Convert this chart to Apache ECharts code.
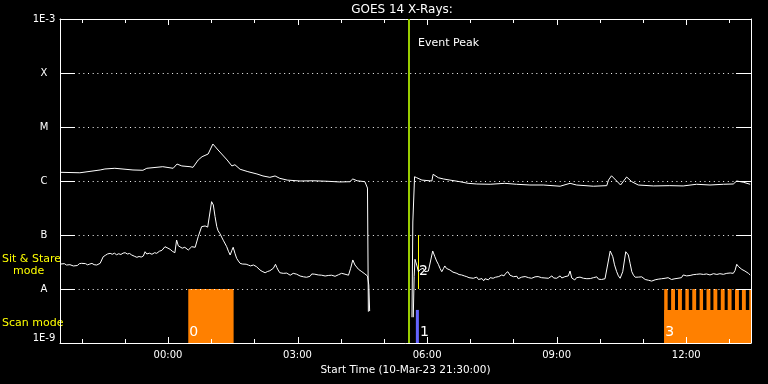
<!DOCTYPE html>
<html><head><meta charset="utf-8">
<script src="https://cdn.jsdelivr.net/npm/echarts@6/dist/echarts.min.js"></script>
<style>html,body{margin:0;padding:0;background:#000;}#c{width:768px;height:384px;}</style>
</head><body><div id="c"></div>
<script>
// ---- text ----
const titleText = 'GOES 14 X-Rays:';
const xAxisName = 'Start Time (10-Mar-23 21:30:00)';
const leftNotes = ['Sit & Stare', 'mode', 'Scan mode'];
const peakLabel = 'Event Peak';

// ---- axes (time in hours relative to 00:00 on 11-Mar-23) ----
const xMin = -2.5, xMax = 13.5;
const xMajorTicks = [0, 3, 6, 9, 12];
const xMajorLabels = ['00:00', '03:00', '06:00', '09:00', '12:00'];
const xMinorTicks = [-2, -1, 1, 2, 4, 5, 7, 8, 10, 11, 13];
const yMin = 1e-9, yMax = 1e-3;
const yTickExps = [-9, -8, -7, -6, -5, -4, -3];
const yTickLabels = ['1E-9', 'A', 'B', 'C', 'M', 'X', '1E-3'];

// ---- long channel (upper curve): [hour, flux in 1e-6 W/m^2], null = data gap ----
const longChannelE6 = [[-2.50,1.45],[-2.04,1.42],[-1.57,1.60],[-1.46,1.67],[-1.23,1.72],[-0.81,1.60],[-0.58,1.58],[-0.49,1.72],[-0.12,1.84],[0.12,1.72],[0.21,2.06],[0.32,1.90],[0.51,1.84],[0.58,1.79],[0.70,2.45],[0.79,2.82],[0.93,3.16],[1.04,4.84],[1.16,3.75],[1.37,2.45],[1.48,1.90],[1.55,2.00],[1.67,1.65],[1.85,1.49],[2.06,1.35],[2.20,1.24],[2.36,1.17],[2.48,1.24],[2.59,1.12],[2.76,1.04],[3.06,1.00],[3.36,1.01],[3.68,0.99],[3.98,0.96],[4.21,0.97],[4.28,1.09],[4.38,1.01],[4.56,0.97],[4.62,0.74],[4.64,0.0038],[5.10,null],[5.65,0.0030],[5.67,0.174],[5.71,1.20],[5.76,1.15],[5.88,1.04],[6.11,1.00],[6.14,1.33],[6.26,1.15],[6.38,1.09],[6.53,1.04],[6.76,0.97],[6.95,0.906],[7.15,0.88],[7.46,0.87],[7.80,0.906],[8.07,0.87],[8.38,0.843],[8.69,0.843],[9.08,0.80],[9.31,0.906],[9.46,0.843],[9.85,0.80],[10.16,0.82],[10.20,1.04],[10.27,1.25],[10.39,1.00],[10.48,0.843],[10.62,1.186],[10.74,0.97],[10.89,0.843],[11.24,0.81],[11.62,0.82],[11.93,0.81],[12.24,0.87],[12.55,0.843],[12.86,0.87],[13.09,0.88],[13.17,1.00],[13.32,0.95],[13.48,0.87]];

// ---- short channel (lower curve): [hour, flux in 1e-8 W/m^2], null = data gap ----
const shortChannelE8 = [[-2.48,2.90],[-2.44,2.80],[-2.40,2.95],[-2.35,2.78],[-2.31,2.70],[-2.27,2.82],[-2.23,2.65],[-2.19,2.67],[-2.15,2.78],[-2.10,2.72],[-2.05,2.95],[-2.00,2.99],[-1.96,2.85],[-1.91,2.95],[-1.86,2.80],[-1.81,2.90],[-1.76,2.98],[-1.71,2.82],[-1.65,2.78],[-1.61,2.85],[-1.57,2.99],
[-1.50,3.96],[-1.45,4.20],[-1.40,4.45],[-1.34,4.58],[-1.29,4.40],[-1.24,4.60],[-1.19,4.31],[-1.14,4.50],[-1.09,4.35],[-1.04,4.62],[-0.99,4.70],[-0.94,4.45],[-0.89,4.55],[-0.84,4.26],[-0.78,4.05],[-0.72,3.86],[-0.67,4.00],[-0.62,3.90],[-0.57,4.08],[-0.53,4.90],[-0.49,4.45],[-0.43,4.60],[-0.37,4.40],[-0.31,4.70],[-0.26,4.58],[-0.20,5.00],[-0.14,5.20],[-0.07,6.07],[0.00,5.70],[0.05,5.43],[0.10,5.00],[0.16,4.70],[0.20,8.07],[0.24,6.30],[0.28,6.07],[0.33,5.70],[0.39,5.92],[0.43,5.50],[0.47,5.27],[0.51,5.60],[0.55,6.07],[0.59,5.70],[0.63,5.92],
[0.70,9.30],[0.78,14.3],[0.86,14.7],[0.92,14.0],[0.96,14.3],[1.01,41.4],[1.05,36.0],[1.09,22.0],[1.13,14.3],[1.16,12.0],[1.20,10.7],[1.28,8.00],[1.36,6.07],[1.40,5.00],[1.44,4.26],[1.48,5.20],[1.51,5.92],[1.55,4.60],[1.59,3.70],[1.63,3.30],[1.67,2.99],[1.72,2.90],[1.76,2.75],[1.81,2.88],[1.86,2.78],[1.91,2.68],[1.95,2.85],[1.98,2.78],
[2.05,2.59],[2.09,2.40],[2.13,2.25],[2.18,2.12],[2.22,2.05],[2.25,2.00],[2.30,2.10],[2.36,2.18],[2.40,2.30],[2.44,2.42],[2.49,2.87],[2.52,2.50],[2.55,2.25],[2.59,2.00],[2.63,1.87],[2.67,1.95],[2.71,1.84],[2.75,1.97],[2.79,1.90],[2.83,1.80],[2.87,1.93],[2.90,1.95],[2.94,1.82],[2.98,1.88],[3.02,1.78],[3.06,1.74],[3.10,1.82],[3.14,1.68],[3.17,1.75],[3.21,1.65],[3.25,1.78],[3.29,1.72],[3.33,1.90],[3.37,1.80],[3.40,1.88],[3.44,1.74],[3.48,1.82],[3.52,1.70],[3.56,1.80],[3.60,1.84],[3.64,1.74],[3.68,1.88],[3.71,1.78],[3.75,1.90],[3.79,1.80],[3.83,1.86],[3.87,1.72],[3.91,1.74],[3.95,1.84],[3.98,1.78],[4.02,1.95],[4.06,1.82],[4.10,1.88],[4.14,1.74],[4.18,1.80],
[4.23,2.42],[4.28,3.45],[4.33,2.78],[4.37,2.55],[4.41,2.32],[4.45,2.20],[4.49,2.09],[4.52,2.15],[4.56,1.90],[4.59,1.98],[4.62,1.74],[4.65,1.19],[4.67,0.39],[5.10,null],
[5.68,0.30],[5.70,1.69],[5.72,3.55],[5.76,2.78],[5.80,2.09],[5.84,2.30],[5.87,2.20],[5.91,2.42],[5.95,2.10],[5.99,1.95],[6.03,2.15],[6.07,2.09],[6.13,5.06],[6.18,3.96],[6.22,3.30],[6.26,2.87],[6.30,2.40],[6.34,2.09],[6.38,2.40],[6.41,2.67],[6.45,2.40],[6.49,2.50],[6.53,2.25],
[6.60,2.05],[6.64,2.20],[6.69,1.95],[6.74,1.85],[6.77,2.00],[6.80,1.82],[6.86,1.75],[6.89,1.90],[6.92,1.69],[6.97,1.62],[7.01,1.75],[7.07,1.58],[7.11,1.52],[7.15,1.66],[7.19,1.50],[7.23,1.47],[7.27,1.56],[7.31,1.42],[7.34,1.55],[7.38,1.53],[7.42,1.48],[7.46,1.62],[7.50,1.50],[7.53,1.58],[7.58,1.65],[7.62,1.55],[7.66,1.70],[7.69,1.60],[7.73,1.82],[7.78,1.75],[7.82,1.95],[7.87,2.09],[7.92,1.80],[7.96,1.90],[8.00,1.69],[8.04,1.62],[8.08,1.72],[8.11,1.55],[8.15,1.58],[8.19,1.66],[8.23,1.55],[8.27,1.70],[8.31,1.76],[8.35,1.62],[8.38,1.72],[8.42,1.58],[8.46,1.53],[8.50,1.68],[8.54,1.55],[8.57,1.70],[8.61,1.82],[8.65,1.62],[8.69,1.75],[8.73,1.60],[8.77,1.72],[8.81,1.58],[8.85,1.69],[8.89,1.75],[8.93,1.60],[8.96,1.70],[9.00,1.58],[9.04,1.62],[9.08,1.75],[9.12,1.60],[9.15,1.72],[9.19,1.69],[9.23,1.60],[9.27,1.75],[9.31,2.15],[9.35,1.60],[9.38,1.52],[9.42,1.47],[9.46,1.62],[9.50,1.52],[9.54,1.66],[9.58,1.55],[9.62,1.58],[9.66,1.66],[9.70,1.55],[9.74,1.68],[9.78,1.56],[9.81,1.66],[9.85,1.62],[9.89,1.55],[9.93,1.68],[9.97,1.52],[10.01,1.60],[10.04,1.50],[10.08,1.47],[10.12,1.55],
[10.16,1.58],[10.24,5.06],[10.30,3.96],[10.34,2.80],[10.39,2.09],[10.43,1.75],[10.47,1.58],[10.53,2.09],[10.60,4.90],[10.66,4.26],[10.70,3.00],[10.74,2.09],[10.78,1.80],[10.82,1.65],[10.85,1.58],[10.89,1.66],[10.93,1.55],[10.97,1.68],[11.01,1.62],[11.05,1.50],[11.09,1.60],[11.13,1.45],[11.17,1.52],[11.20,1.40],[11.24,1.37],[11.28,1.48],[11.32,1.40],[11.35,1.52],[11.39,1.47],[11.43,1.55],[11.47,1.48],[11.51,1.58],[11.55,1.52],[11.58,1.62],[11.62,1.58],[11.66,1.50],[11.70,1.62],[11.74,1.55],[11.78,1.66],[11.81,1.58],[11.85,1.72],[11.89,1.62],[11.93,1.82],[11.97,1.68],[12.01,1.75],[12.05,1.65],[12.09,1.78],[12.12,1.70],[12.16,1.84],[12.20,1.72],[12.24,1.87],[12.28,1.76],[12.32,1.90],[12.36,1.78],[12.40,1.86],[12.43,1.74],[12.47,1.90],[12.51,1.78],[12.55,1.82],[12.59,1.74],[12.63,1.92],[12.67,1.80],[12.71,1.86],[12.75,1.76],[12.78,1.92],[12.82,1.80],[12.86,1.87],[12.90,1.80],[12.94,1.95],[12.98,1.84],[13.02,1.98],[13.05,1.88],[13.09,1.95],[13.13,2.20],[13.17,2.87],[13.21,2.60],[13.25,2.42],[13.29,2.30],[13.32,2.20],[13.36,2.15],[13.40,2.00],[13.44,1.95],[13.48,1.82]];

// ---- observing-mode events ----
const scanBase = 1e-9, scanTop = 1e-8, scanSolidTop = 4.1e-9;
const scanBars = [[0.47,1.52],[11.49,11.57],[11.65,11.74],[11.81,11.90],[11.98,12.06],[12.14,12.23],[12.31,12.39],[12.47,12.56],[12.63,12.72],[12.80,12.89],[12.96,13.05],[13.13,13.22],[13.29,13.38],[13.46,13.50]];
const scanSolid = [[11.49,13.50]];
const stareBars = [[5.74,5.81]];
const stareLineTimes = [5.80];
const stareLineLow = 1e-8, stareLineHigh = 1e-7;
const peakTime = 5.58;
const eventNums = ['0', '1', '2', '3'];
const eventNumTimes = [0.47, 5.81, 5.79, 11.49];
const eventNumFlux = [1.6e-9, 1.6e-9, 2.15e-8, 1.6e-9];

const FONT = 'DejaVu Sans';
const chart = echarts.init(document.getElementById('c'), null, {renderer: 'canvas'});

function toPairs(rows, unit) { return rows.map(r => [r[0], r[1] === null ? '-' : r[1] * unit]); }
function rectItem(api, fill) {
  const p0 = api.coord([api.value(0), api.value(3)]);
  const p1 = api.coord([api.value(1), api.value(2)]);
  return {type: 'rect', shape: {x: p0[0], y: p0[1], width: p1[0] - p0[0], height: p1[1] - p0[1]}, style: {fill: fill}};
}
const white = {color: '#fff', width: 1};

chart.setOption({
  backgroundColor: '#000',
  animation: false,
  grid: {left: 60, right: 17, top: 19, bottom: 41, containLabel: false, outerBoundsMode: 'none'},
  graphic: [
    {type: 'text', x: 402, y: 10, style: {text: titleText, fill: '#fff', fontSize: 12, fontFamily: FONT, align: 'center', verticalAlign: 'middle'}},
    {type: 'text', x: 2, y: 259, style: {text: leftNotes[0], fill: '#ffff00', fontSize: 11, fontFamily: FONT, align: 'left', verticalAlign: 'middle'}},
    {type: 'text', x: 13, y: 271, style: {text: leftNotes[1], fill: '#ffff00', fontSize: 11, fontFamily: FONT, align: 'left', verticalAlign: 'middle'}},
    {type: 'text', x: 2, y: 323, style: {text: leftNotes[2], fill: '#ffff00', fontSize: 11, fontFamily: FONT, align: 'left', verticalAlign: 'middle'}}
  ],
  xAxis: [
    {type: 'value', min: xMin, max: xMax, position: 'bottom', z: 3,
      axisLine: {show: true, onZero: false, lineStyle: white},
      axisTick: {show: false},
      splitLine: {show: false},
      axisLabel: {show: true, customValues: xMajorTicks, color: '#fff', fontSize: 10, fontFamily: FONT, margin: 7,
        formatter: v => xMajorLabels[xMajorTicks.indexOf(v)] || ''},
      name: xAxisName, nameLocation: 'middle', nameGap: 19,
      nameTextStyle: {color: '#fff', fontSize: 10.5, fontFamily: FONT}},
    {type: 'value', min: xMin, max: xMax, position: 'top', z: 3,
      axisLine: {show: true, onZero: false, lineStyle: white},
      axisTick: {show: false}, splitLine: {show: false}, axisLabel: {show: false}}
  ],
  yAxis: [
    {type: 'log', logBase: 10, min: yMin, max: yMax, position: 'left', z: 3,
      axisLine: {show: true, onZero: false, lineStyle: white},
      axisTick: {show: true, inside: true, length: 15, lineStyle: white},
      minorTick: {show: false},
      axisLabel: {show: true, color: '#fff', fontSize: 10, fontFamily: FONT, margin: 16, align: 'center',
        verticalAlignMinLabel: 'bottom', verticalAlignMaxLabel: 'top',
        formatter: v => { const i = yTickExps.indexOf(Math.round(Math.log10(v))); return i < 0 ? '' : yTickLabels[i]; }},
      splitLine: {show: true, lineStyle: {color: '#fff', width: 1, type: [1, 3.67]}}},
    {type: 'log', logBase: 10, min: yMin, max: yMax, position: 'right', z: 3,
      axisLine: {show: true, onZero: false, lineStyle: white},
      axisTick: {show: true, inside: true, length: 15, lineStyle: white},
      minorTick: {show: false},
      axisLabel: {show: false},
      splitLine: {show: false}}
  ],
  series: [
    {type: 'custom', name: 'scan', z: 1, silent: true, xAxisIndex: 0, yAxisIndex: 0,
      encode: {x: [0, 1], y: [2, 3]},
      data: scanBars.map(b => [b[0], b[1], scanBase, scanTop]).concat(scanSolid.map(b => [b[0], b[1], scanBase, scanSolidTop])),
      renderItem: (params, api) => rectItem(api, '#ff8000')},
    {type: 'custom', name: 'stare', z: 1, silent: true, xAxisIndex: 0, yAxisIndex: 0,
      encode: {x: [0, 1], y: [2, 3]},
      data: stareBars.map(b => [b[0], b[1], scanBase, scanSolidTop]),
      renderItem: (params, api) => rectItem(api, '#6464ff')},
    {type: 'custom', name: 'xTicks', z: 4, silent: true, xAxisIndex: 0, yAxisIndex: 0,
      encode: {x: 0, y: [1, 2]},
      data: xMajorTicks.map(v => [v, yMin, yMax, 1]).concat(xMinorTicks.map(v => [v, yMin, yMax, 0])),
      renderItem: (params, api) => {
        const b = api.coord([api.value(0), api.value(1)]);
        const t = api.coord([api.value(0), api.value(2)]);
        const len = api.value(3) ? 6 : 4;
        const x = Math.round(b[0]) + 0.5;
        return {type: 'group', children: [
          {type: 'line', shape: {x1: x, y1: b[1], x2: x, y2: b[1] - len}, style: {stroke: '#fff', lineWidth: 1}},
          {type: 'line', shape: {x1: x, y1: t[1], x2: x, y2: t[1] + len}, style: {stroke: '#fff', lineWidth: 1}}
        ]};
      }},
    {type: 'line', name: 'long', z: 4, xAxisIndex: 0, yAxisIndex: 0, showSymbol: false, symbol: 'none',
      connectNulls: false, lineStyle: {color: '#fff', width: 1}, data: toPairs(longChannelE6, 1e-6)},
    {type: 'line', name: 'short', z: 4, xAxisIndex: 0, yAxisIndex: 0, showSymbol: false, symbol: 'none',
      connectNulls: false, lineStyle: {color: '#fff', width: 1}, data: toPairs(shortChannelE8, 1e-8)},
    {type: 'custom', name: 'stareLine', z: 4, silent: true, xAxisIndex: 0, yAxisIndex: 0,
      encode: {x: 0, y: [1, 2]},
      data: stareLineTimes.map(t => [t, stareLineLow, stareLineHigh]),
      renderItem: (params, api) => {
        const a = api.coord([api.value(0), api.value(1)]);
        const b = api.coord([api.value(0), api.value(2)]);
        const x = Math.round(a[0]) + 0.5;
        return {type: 'line', shape: {x1: x, y1: a[1], x2: x, y2: b[1]}, style: {stroke: '#ffff00', lineWidth: 1}};
      }},
    {type: 'custom', name: 'peak', z: 5, silent: true, xAxisIndex: 0, yAxisIndex: 0,
      encode: {x: 0, y: [1, 2]},
      data: [[peakTime, yMin, yMax]],
      renderItem: (params, api) => {
        const top = api.coord([api.value(0), api.value(2)]);
        const bot = api.coord([api.value(0), api.value(1)]);
        const x = Math.round(top[0]);
        return {type: 'group', children: [
          {type: 'rect', shape: {x: x - 1, y: top[1], width: 2, height: bot[1] - top[1]}, style: {fill: '#99cc00'}},
          {type: 'text', x: x + 9, y: top[1] + 24, style: {text: peakLabel, fill: '#fff', fontSize: 11, fontFamily: FONT, align: 'left', verticalAlign: 'middle'}}
        ]};
      }},
    {type: 'custom', name: 'eventNums', z: 6, silent: true, xAxisIndex: 0, yAxisIndex: 0,
      encode: {x: 0, y: 1},
      data: eventNums.map((s, i) => [eventNumTimes[i], eventNumFlux[i]]),
      renderItem: (params, api) => {
        const p = api.coord([api.value(0), api.value(1)]);
        return {type: 'text', x: p[0] + 1, y: p[1], style: {text: eventNums[params.dataIndex], fill: '#fff', fontSize: 14, fontFamily: FONT, align: 'left', verticalAlign: 'middle'}};
      }}
  ]
});
</script>
</body></html>
